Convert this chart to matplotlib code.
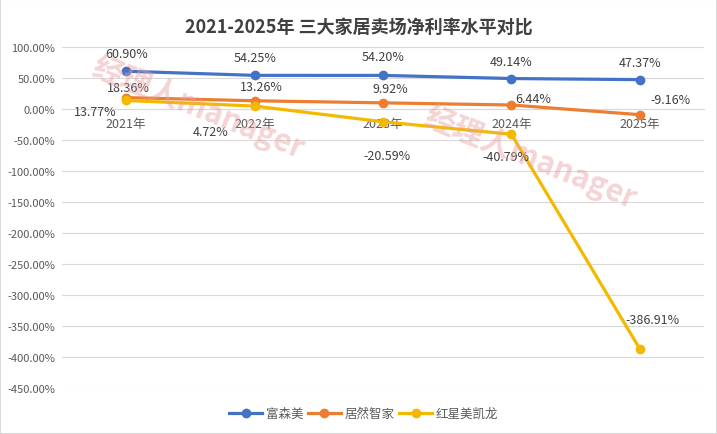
import numpy as np
import matplotlib.pyplot as plt
from matplotlib.patches import Rectangle

# ---------
# > Data <
# ---------
years = ["2021年", "2022年", "2023年", "2024年", "2025年"]
fusenmei = [60.90, 54.25, 54.20, 49.14, 47.37]
juran = [18.36, 13.26, 9.92, 6.44, -9.16]
hongxing = [13.77, 4.72, -20.59, -40.79, -386.91]
series_names = ["富森美", "居然智家", "红星美凯龙"]
y_ticks = [100, 50, 0, -50, -100, -150, -200, -250, -300, -350, -400, -450]

colors = ["#4472C4", "#ED7D31", "#F5B800"]
# label offsets in points (dx, dy) for each series / point
offsets = [
    [(0, 13), (0, 13), (0, 13.5), (0, 12.5), (0, 12.5)],
    [(1.5, 7), (5, 10), (5, 10), (16, 5), (22, 11)],
    [(-22, -8), (-32, -18), (3, -24), (-4, -16), (9, 21)],
]

plt.rcParams["font.family"] = ["Noto Sans CJK SC", "DejaVu Sans"]

fig = plt.figure(figsize=(7.17, 4.35), dpi=100)
ax = fig.add_axes([62 / 717, 46 / 435, 642 / 717, 341 / 435])

x = np.arange(len(years))
for name, vals, col, offs in zip(series_names, [fusenmei, juran, hongxing], colors, offsets):
    ax.plot(x, vals, color=col, lw=2.3, marker="o", ms=6, label=name, zorder=3)
    for xi, v, (dx, dy) in zip(x, vals, offs):
        ax.annotate(f"{v:.2f}%", (xi, v), xytext=(dx, dy), textcoords="offset points",
                    ha="center", va="center", fontsize=9, color="#404040", zorder=4)

ax.set_xlim(-0.5, len(years) - 0.5)
ax.set_ylim(-450, 100)
ax.set_yticks(y_ticks)
ax.set_yticklabels([f"{t:.2f}%" for t in y_ticks])
ax.yaxis.grid(True, color="#D9D9D9", lw=0.8)
ax.set_axisbelow(True)
ax.tick_params(axis="y", length=0, labelsize=8, labelcolor="#595959", pad=5)

ax.set_xticks(x)
ax.set_xticklabels(years)
ax.tick_params(axis="x", length=0, labelsize=9, labelcolor="#595959", pad=6)
ax.spines["bottom"].set_position(("data", 0))
ax.spines["bottom"].set_color("#D9D9D9")
for s in ["top", "right", "left"]:
    ax.spines[s].set_visible(False)

# watermark
for wx, wy in [(0.276, 0.752), (0.739, 0.637)]:
    fig.text(wx, wy, "经理人manager", fontsize=22, fontweight="bold", color="#E8A0A0",
             alpha=0.45, rotation=-22, ha="center", va="center", zorder=0)

fig.suptitle("2021-2025年 三大家居卖场净利率水平对比", x=0.5, y=0.958, fontsize=13,
             fontweight="bold", color="#404040")

ax.legend(loc="center", bbox_to_anchor=(0.47, -0.075), ncol=3, frameon=False,
          fontsize=9, handlelength=2.6, handletextpad=0.3, columnspacing=0.4,
          labelcolor="#595959")

fig.patches.append(Rectangle((0, 0), 1, 1, transform=fig.transFigure, fill=False,
                             edgecolor="#D9D9D9", lw=1.5))

fig.savefig("out.png", dpi=100)
